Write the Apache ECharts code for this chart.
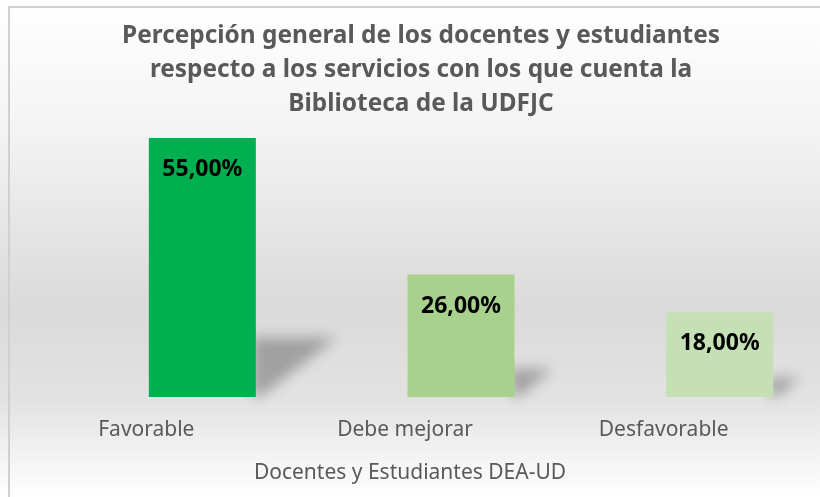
<!DOCTYPE html>
<html>
<head>
<meta charset="utf-8">
<title>Percepción general - Biblioteca UDFJC</title>
<script src="https://cdn.jsdelivr.net/npm/echarts@6/dist/echarts.min.js"></script>
<style>
  html, body { margin: 0; padding: 0; background: #fff; }
  #main { width: 820px; height: 497px; }
</style>
</head>
<body>
<div id="main"></div>
<script>
  // datos
  var categorias = ['Favorable', 'Debe mejorar', 'Desfavorable'];
  var porcentajes = [55, 26, 18];
  var colores = ['#00B050', '#A9D18E', '#C5E0B4'];
  var tituloTexto = 'Percepción general de los docentes y estudiantes\nrespecto a los servicios con los que cuenta la\nBiblioteca de la UDFJC';
  var ejeNombre = 'Docentes y Estudiantes DEA-UD';

  var fuente = '"Noto Sans", "Open Sans", sans-serif';
  var BAR_W = 107;
  var BAR_GAP = 5;                      // hueco con la serie vacia
  var DESPL = (BAR_W + BAR_GAP) / 2;    // las barras quedan a la derecha de la etiqueta
  var FUERA = 1200; // la sombra se dibuja desde fuera del lienzo (solo se ve el blur)

  var chart = echarts.init(document.getElementById('main'));

  var option = {
    backgroundColor: {
      type: 'linear', x: 0, y: 0, x2: 0, y2: 1,
      colorStops: [
        { offset: 0, color: '#ffffff' },
        { offset: 0.25, color: '#f4f4f4' },
        { offset: 0.62, color: '#dadada' },
        { offset: 0.8, color: '#e2e2e2' },
        { offset: 1, color: '#ffffff' }
      ]
    },
    title: {
      text: tituloTexto,
      left: 421,
      top: 19,
      textAlign: 'center',
      padding: 0,
      textStyle: {
        fontFamily: fuente,
        fontSize: 24.4,
        fontWeight: 'bold',
        color: '#595959',
        lineHeight: 34
      }
    },
    graphic: [{
      type: 'rect',
      shape: { x: 9, y: 7, width: 830, height: 520 },
      style: { fill: 'none', stroke: '#d0d0d0', lineWidth: 2 },
      silent: true
    }],
    grid: { left: 17, right: 27, top: 138, bottom: 100 },
    xAxis: {
      type: 'category',
      data: categorias,
      axisLine: { show: false },
      axisTick: { show: false },
      axisLabel: {
        margin: 23,
        fontFamily: fuente,
        fontSize: 21,
        color: '#595959'
      },
      name: ejeNombre,
      nameLocation: 'middle',
      nameGap: 66,
      nameTextStyle: {
        fontFamily: fuente,
        fontSize: 21,
        color: '#595959',
        padding: [0, 0, 0, 10]
      }
    },
    yAxis: { type: 'value', min: 0, max: 55, show: false },
    series: [{
      // sombra de perspectiva detras de cada barra
      type: 'custom',
      z: 1,
      silent: true,
      clip: false,
      data: porcentajes,
      renderItem: function (params, api) {
        var top = api.coord([api.value(0), api.value(1)]);
        var base = api.coord([api.value(0), 0]);
        var h = base[1] - top[1];
        var xr = base[0] + DESPL + BAR_W / 2 - FUERA;
        var y0 = base[1];
        return {
          type: 'polygon',
          shape: {
            points: [
              [xr - 4, y0 - h * 0.23],
              [xr + h * 0.31, y0 - h * 0.23],
              [xr + 6, y0 - 1],
              [xr - 4, y0 - 1]
            ]
          },
          style: {
            fill: '#000',
            shadowBlur: 13,
            shadowOffsetX: FUERA,
            shadowColor: 'rgba(0,0,0,0.28)'
          }
        };
      }
    }, {
      // serie vacia, solo empuja las barras hacia la derecha
      type: 'bar',
      z: 2,
      silent: true,
      barWidth: BAR_W,
      barGap: (BAR_GAP / BAR_W * 100) + '%',
      data: [0, 0, 0],
      itemStyle: { color: 'rgba(0,0,0,0)' }
    }, {
      type: 'bar',
      z: 2,
      barWidth: BAR_W,
      data: porcentajes.map(function (v, i) {
        return { value: v, itemStyle: { color: colores[i] } };
      }),
      label: {
        show: true,
        position: 'insideTop',
        distance: 20,
        fontFamily: fuente,
        fontSize: 23,
        fontWeight: 'bold',
        color: '#000000',
        formatter: function (p) {
          return p.value.toFixed(2).replace('.', ',') + '%';
        }
      }
    }]
  };

  chart.setOption(option);
</script>
</body>
</html>
